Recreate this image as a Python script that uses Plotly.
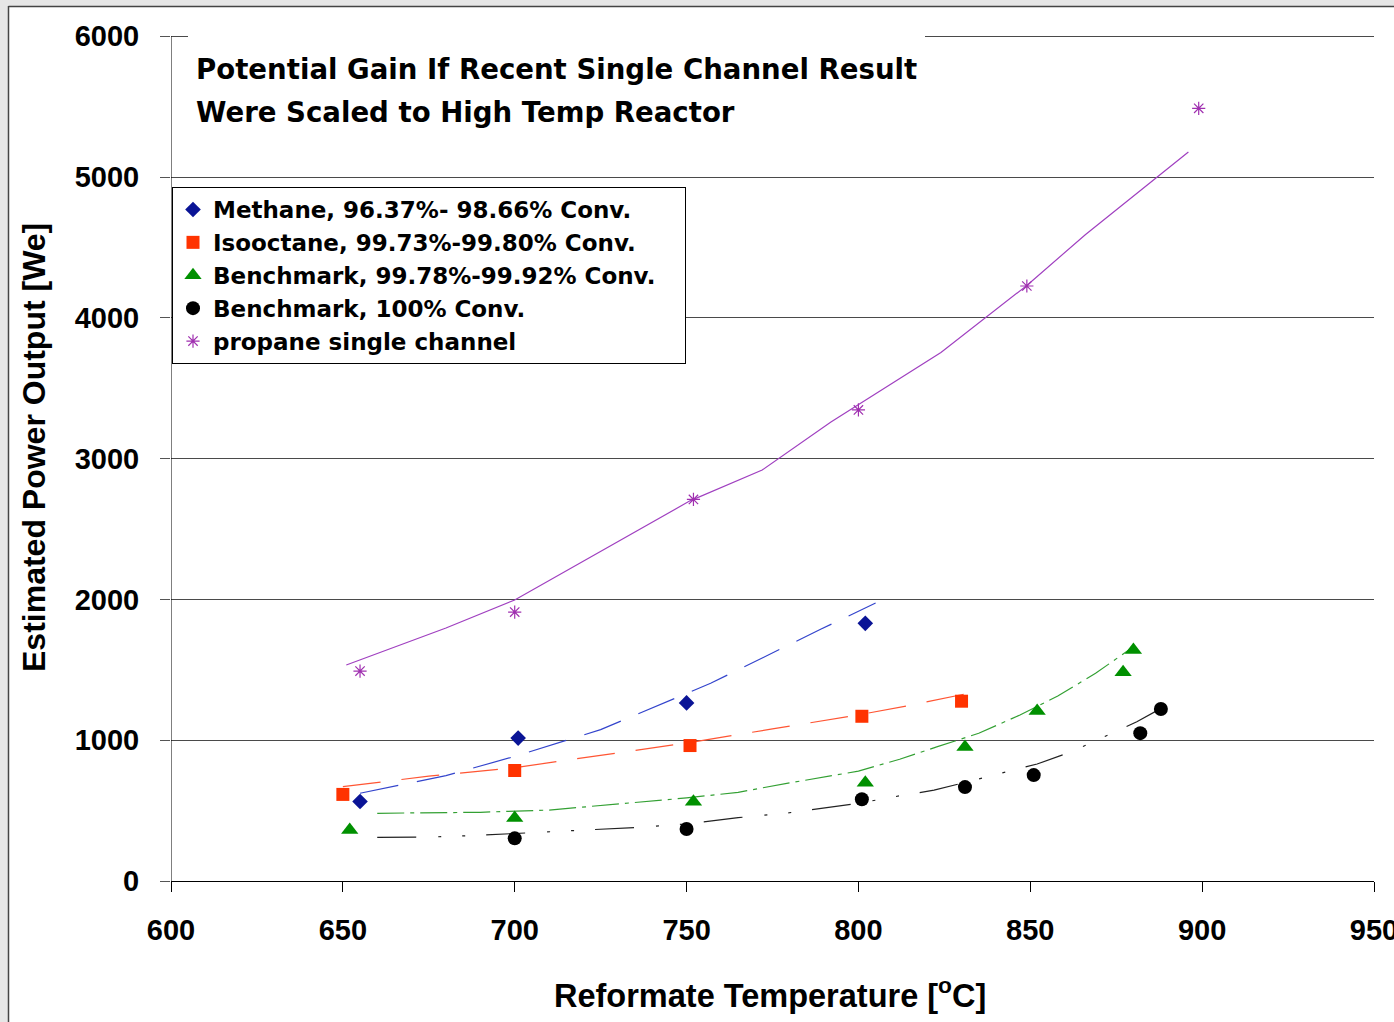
import plotly.graph_objects as go

# ---- data ----
methane_x = [655, 701, 750, 802]
methane_y = [565, 1015, 1265, 1830]
iso_x = [650, 700, 751, 801, 830]
iso_y = [615, 785, 962, 1170, 1277]
bench_x = [652, 700, 752, 802, 831, 852, 877, 880]
bench_y = [362, 448, 562, 697, 952, 1207, 1482, 1640]
bench100_x = [700, 750, 801, 831, 851, 882, 888]
bench100_y = [303, 369, 581, 667, 752, 1050, 1222]
propane_x = [655, 700, 752, 800, 849, 899]
propane_y = [1491, 1910, 2710, 3346, 4226, 5488]

# trend lines (as drawn in the chart)
methane_trend_x = [655, 680, 700, 725, 757, 789, 805]
methane_trend_y = [623, 748, 885, 1075, 1404, 1788, 1974]
iso_trend_x = [650, 675, 700, 725, 750, 775, 800, 815, 832]
iso_trend_y = [670, 745, 805, 895, 980, 1080, 1180, 1248, 1333]
bench_trend_x = [660, 690, 710, 725, 750, 765, 780, 800, 812, 823, 835, 847, 858, 869, 880]
bench_trend_y = [481, 488, 504, 535, 590, 630, 697, 780, 865, 954, 1049, 1179, 1314, 1475, 1664]
bench100_trend_x = [660, 675, 690, 705, 720, 735, 750, 765, 780, 790, 800, 812, 822, 830, 844, 852, 862, 874, 881, 891]
bench100_trend_y = [310, 312, 325, 343, 362, 380, 405, 450, 485, 516, 552, 605, 645, 694, 781, 831, 918, 1049, 1131, 1266]
propane_trend_x = [651, 680, 700, 751, 772, 792, 824, 849, 866, 896]
propane_trend_y = [1534, 1797, 1996, 2700, 2919, 3260, 3754, 4230, 4590, 5178]

x_ticks = [600, 650, 700, 750, 800, 850, 900, 950]
y_ticks = [0, 1000, 2000, 3000, 4000, 5000, 6000]

FONT = "Liberation Sans, Arial, sans-serif"
WIDE = "DejaVu Sans, Verdana, sans-serif"
PAD = "\u00a0" * 3

fig = go.Figure()

# trend lines
fig.add_trace(go.Scatter(x=methane_trend_x, y=methane_trend_y, mode="lines",
                         line=dict(color="#3344CC", width=1.2, dash="39px,19px"),
                         showlegend=False, hoverinfo="skip"))
fig.add_trace(go.Scatter(x=iso_trend_x, y=iso_trend_y, mode="lines",
                         line=dict(color="#FF5533", width=1.2, dash="38px,21px"),
                         showlegend=False, hoverinfo="skip"))
fig.add_trace(go.Scatter(x=bench_trend_x, y=bench_trend_y, mode="lines",
                         line=dict(color="#33A033", width=1.2, dash="27px,6px,4px,6px"),
                         showlegend=False, hoverinfo="skip"))
fig.add_trace(go.Scatter(x=bench100_trend_x, y=bench100_trend_y, mode="lines",
                         line=dict(color="#222222", width=1.2, dash="39px,22px,3px,21px,3px,21px"),
                         showlegend=False, hoverinfo="skip"))
fig.add_trace(go.Scatter(x=propane_trend_x, y=propane_trend_y, mode="lines",
                         line=dict(color="#A040C0", width=1.2),
                         showlegend=False, hoverinfo="skip"))

# markers
fig.add_trace(go.Scatter(x=methane_x, y=methane_y, mode="markers",
                         name="Methane, 96.37%- 98.66% Conv.",
                         marker=dict(symbol="diamond", size=12, color="#0A1496")))
fig.add_trace(go.Scatter(x=iso_x, y=iso_y, mode="markers",
                         name="Isooctane, 99.73%-99.80% Conv.",
                         marker=dict(symbol="square", size=13, color="#FF3300")))
fig.add_trace(go.Scatter(x=bench_x, y=bench_y, mode="markers",
                         name="Benchmark, 99.78%-99.92% Conv." + PAD,
                         marker=dict(symbol="triangle-up", size=15, color="#009000")))
fig.add_trace(go.Scatter(x=bench100_x, y=bench100_y, mode="markers",
                         name="Benchmark, 100% Conv.",
                         marker=dict(symbol="circle", size=14, color="#000000")))
fig.add_trace(go.Scatter(x=propane_x, y=propane_y, mode="markers",
                         name="propane single channel",
                         marker=dict(symbol="asterisk-open", size=11,
                                     line=dict(color="#A030B0", width=1.2), color="#A030B0")))

W, H = 1394, 1022
L, R, B = 171, 20, 141
T = 32
Y_TOP = 6030
pw = W - L - R

def px(xp):
    return (xp - L) / pw

def py(yp):
    return (H - B - yp) / (H - B - T)

fig.update_layout(
    width=W, height=H,
    margin=dict(l=L, r=R, t=T, b=B, autoexpand=False),
    paper_bgcolor="white", plot_bgcolor="white",
    font=dict(family=FONT, color="black"),
    xaxis=dict(range=[600, 950], tickvals=x_ticks, showgrid=False,
               showline=True, linecolor="black", linewidth=1,
               ticks="outside", ticklen=10, tickcolor="black",
               tickfont=dict(size=29, family=FONT, weight="bold"),
               ticklabelstandoff=13, ticklabeloverflow="allow",
               automargin=False, zeroline=False),
    yaxis=dict(range=[0, Y_TOP], tickvals=y_ticks, showgrid=True,
               gridcolor="#4A4A4A", gridwidth=1.3,
               showline=False, automargin=False,
               ticks="outside", ticklen=10, tickcolor="#555555",
               tickfont=dict(size=29, family=FONT, weight="bold"),
               ticklabelstandoff=15, zeroline=False),
    legend=dict(x=px(172), y=py(187), xanchor="left", yanchor="top",
                bgcolor="white", bordercolor="black", borderwidth=1,
                font=dict(size=23, family=WIDE, weight="bold"),
                tracegroupgap=0, itemwidth=30),
    showlegend=True,
)

# y axis line from 0 to 6000
fig.add_shape(type="line", xref="x", yref="y", x0=600, x1=600, y0=0, y1=6000,
              line=dict(color="black", width=1), layer="above")

# title box (white background hides the top gridline behind the text)
fig.add_shape(type="rect", xref="paper", yref="paper",
              x0=px(188), x1=px(925), y0=py(140), y1=py(28),
              fillcolor="white", line=dict(width=0), layer="above")
fig.add_annotation(xref="paper", yref="paper", x=px(194), y=py(70),
                   xanchor="left", yanchor="middle", align="left",
                   text="Potential Gain If Recent Single Channel Result",
                   showarrow=False,
                   font=dict(size=27.6, family=WIDE, weight="bold"))
fig.add_annotation(xref="paper", yref="paper", x=px(194), y=py(112),
                   xanchor="left", yanchor="middle", align="left",
                   text="Were Scaled to High Temp Reactor",
                   showarrow=False,
                   font=dict(size=27.6, family=WIDE, weight="bold"))

# axis titles
fig.add_annotation(xref="paper", yref="paper", x=px(770), y=py(993),
                   xanchor="center", yanchor="middle",
                   text="Reformate Temperature [<sup>o</sup>C]", showarrow=False,
                   font=dict(size=32.5, family=FONT, weight="bold"))
fig.add_annotation(xref="paper", yref="paper", x=px(34), y=py(448),
                   xanchor="center", yanchor="middle", textangle=-90,
                   text="Estimated Power Output [We]", showarrow=False,
                   font=dict(size=32, family=FONT, weight="bold"))

# slide frame strips (left and top)
fig.add_shape(type="rect", xref="paper", yref="paper",
              x0=px(0), x1=px(8), y0=py(H), y1=py(0),
              fillcolor="#E6E6E6", line=dict(width=0), layer="above")
fig.add_shape(type="line", xref="paper", yref="paper",
              x0=px(8.5), x1=px(8.5), y0=py(H), y1=py(6),
              line=dict(color="#444444", width=1.5), layer="above")
fig.add_shape(type="rect", xref="paper", yref="paper",
              x0=px(0), x1=px(W), y0=py(6), y1=py(0),
              fillcolor="#E6E6E6", line=dict(width=0), layer="above")
fig.add_shape(type="line", xref="paper", yref="paper",
              x0=px(8.5), x1=px(W), y0=py(6.5), y1=py(6.5),
              line=dict(color="#444444", width=1.5), layer="above")

fig.write_html("out.html")
